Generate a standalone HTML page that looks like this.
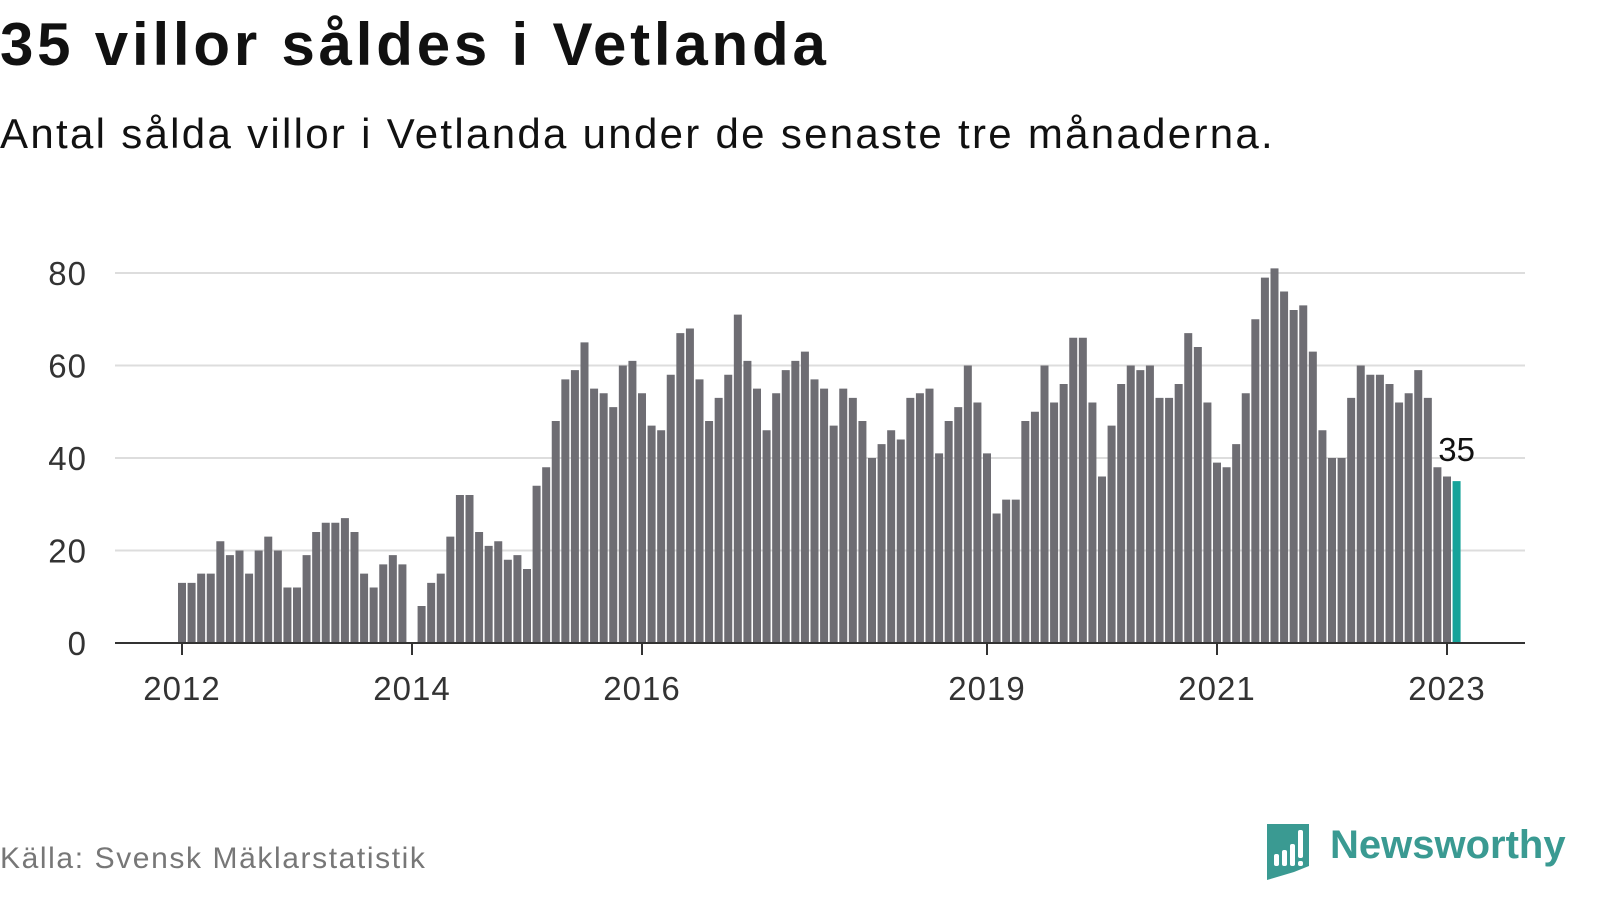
<!DOCTYPE html>
<html><head><meta charset="utf-8"><style>
body{margin:0;width:1600px;height:900px;background:#fff;font-family:"Liberation Sans",sans-serif;overflow:hidden;position:relative}
.t{position:absolute;left:0;top:10px;font-size:60px;letter-spacing:3.8px;font-weight:bold;color:#111}
.s{position:absolute;left:0;top:110px;font-size:42px;letter-spacing:2.3px;color:#111}
.src{position:absolute;left:0;top:842px;font-size:30px;letter-spacing:1.6px;color:#777}
.brand{position:absolute;left:1330px;top:823px;font-size:40px;font-weight:bold;color:#3a9a92}
</style></head><body>
<div class="t">35 villor såldes i Vetlanda</div>
<div class="s">Antal sålda villor i Vetlanda under de senaste tre månaderna.</div>
<svg id="c" width="1600" height="900" style="position:absolute;left:0;top:0"></svg>
<div class="src">Källa: Svensk Mäklarstatistik</div>
<svg style="position:absolute;left:1264px;top:824px" width="48" height="56">
<path d="M3 0H45V42L30 48 3 56Z" fill="#3a9a92"/>
<rect x="10" y="30" width="5" height="12" rx="2" fill="#fff"/><rect x="18" y="26" width="5" height="16" rx="2" fill="#fff"/><rect x="26" y="20" width="5" height="22" rx="2" fill="#fff"/><rect x="34" y="6" width="5" height="28" rx="2" fill="#fff"/><rect x="34" y="37" width="5" height="5" rx="2" fill="#fff"/>
</svg>
<div class="brand">Newsworthy</div>
<script>
const startYear = 2012;
const values = [13,13,15,15,22,19,20,15,20,23,20,12,
12,19,24,26,26,27,24,15,12,17,19,17,
0,8,13,15,23,32,32,24,21,22,18,19,
16,34,38,48,57,59,65,55,54,51,60,61,
54,47,46,58,67,68,57,48,53,58,71,61,
55,46,54,59,61,63,57,55,47,55,53,48,
40,43,46,44,53,54,55,41,48,51,60,52,
41,28,31,31,48,50,60,52,56,66,66,52,
36,47,56,60,59,60,53,53,56,67,64,52,
39,38,43,54,70,79,81,76,72,73,63,46,
40,40,53,60,58,58,56,52,54,59,53,38,
36,35];
const yTicks = [0,20,40,60,80];
const xTickYears = [2012,2014,2016,2019,2021,2023];
const svg = document.getElementById('c');
const NS = 'http://www.w3.org/2000/svg';
const y = v => 643 - v * 370 / 80;
const x = i => 182 + i * 9.5833;
function mk(t, a){const e=document.createElementNS(NS,t);for(const k in a)e.setAttribute(k,a[k]);svg.appendChild(e);return e;}
yTicks.forEach(v=>{
  if(v>0){const g=mk('line',{x1:115,x2:1525,y1:y(v),y2:y(v),stroke:'#ddd','stroke-width':2});
  
  }
  const t=mk('text',{x:87,y:y(v)+12,'text-anchor':'end','font-size':33,'letter-spacing':1,fill:'#333','font-family':'Liberation Sans, sans-serif'});
  t.textContent=v;
  
  
});
values.forEach((v,i)=>{
  const last=i===values.length-1;
  const r=mk('rect',{x:x(i)-4,y:y(v),width:8,height:643-y(v),fill:last?'#16a39a':'#6e6d73'});
  
  
});
const ax=mk('line',{x1:115,x2:1525,y1:643,y2:643,stroke:'#333','stroke-width':2});


xTickYears.forEach(yr=>{
  const i=(yr-startYear)*12;
  const tk=mk('line',{x1:x(i),x2:x(i),y1:643,y2:655,stroke:'#333','stroke-width':2});
  
  
  const t=mk('text',{x:x(i),y:700,'text-anchor':'middle','font-size':33,'letter-spacing':1,fill:'#333','font-family':'Liberation Sans, sans-serif'});
  t.textContent=yr;
  
  
});
const li=values.length-1;
const lab=mk('text',{x:x(li),y:y(values[li])-20,'text-anchor':'middle','font-size':33,fill:'#111','font-family':'Liberation Sans, sans-serif'});
lab.textContent=values[li];


</script>
</body></html>
